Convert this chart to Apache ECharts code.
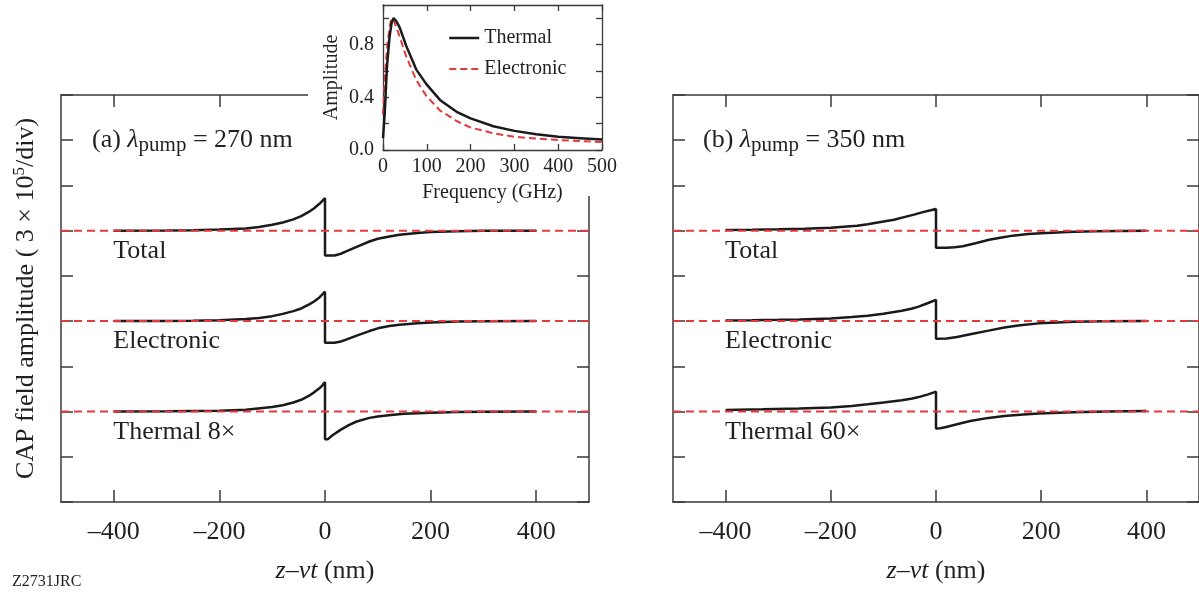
<!DOCTYPE html>
<html><head><meta charset="utf-8">
<script src="https://cdn.jsdelivr.net/npm/echarts@6/dist/echarts.min.js"></script>
<style>html,body{margin:0;padding:0;background:#fff}#c{width:1199px;height:593px}</style>
</head><body><div id="c"></div>
<script>
// ---------- data ----------
const xRange = [-500, 500];
const xTickValues = [-400, -200, 0, 200, 400];
const xTickLabels = ['–400', '–200', '0', '200', '400'];
const yRange = [-1, 8];
const baselineLevels = [5, 3, 1];           // Total, Electronic, Thermal (div)
const labelsA = ['Total', 'Electronic', 'Thermal 8×'];
const labelsB = ['Total', 'Electronic', 'Thermal 60×'];

// panel (a), values in div relative to baseline
const aTotal = [[-400,0],[-300,0.005],[-250,0.01],[-200,0.025],[-150,0.05],[-125,0.08],[-100,0.13],[-80,0.18],[-60,0.25],[-45,0.32],[-30,0.42],[-20,0.5],[-10,0.6],[-5,0.66],[0,0.72],
  [0,-0.55],[18,-0.55],[30,-0.51],[40,-0.46],[60,-0.36],[84,-0.24],[100,-0.18],[122,-0.13],[141,-0.09],[175,-0.05],[200,-0.03],[250,-0.012],[300,-0.004],[400,0]];
const aElectronic = [[-400,0],[-300,0.004],[-250,0.009],[-200,0.02],[-150,0.045],[-125,0.07],[-100,0.11],[-80,0.16],[-60,0.22],[-45,0.28],[-30,0.37],[-20,0.44],[-10,0.53],[-5,0.59],[0,0.65],
  [0,-0.48],[18,-0.48],[30,-0.45],[40,-0.41],[60,-0.32],[84,-0.22],[100,-0.16],[122,-0.11],[141,-0.08],[175,-0.045],[200,-0.028],[250,-0.01],[300,-0.004],[400,0]];
const aThermal = [[-400,0],[-300,0.004],[-200,0.018],[-150,0.04],[-100,0.1],[-80,0.14],[-60,0.2],[-45,0.26],[-30,0.35],[-20,0.43],[-10,0.52],[-5,0.58],[0,0.65],
  [0,-0.61],[5,-0.61],[15,-0.52],[30,-0.4],[45,-0.3],[60,-0.22],[84,-0.14],[100,-0.11],[125,-0.075],[150,-0.05],[200,-0.025],[250,-0.012],[300,-0.005],[400,0]];

// panel (b)
const bTotal = [[-400,0.015],[-350,0.02],[-300,0.03],[-250,0.045],[-200,0.065],[-150,0.11],[-130,0.14],[-108,0.185],[-80,0.24],[-57,0.31],[-40,0.36],[-25,0.41],[-10,0.45],[0,0.48],
  [0,-0.38],[20,-0.38],[35,-0.365],[51,-0.345],[75,-0.28],[101,-0.2],[125,-0.15],[146,-0.11],[175,-0.075],[200,-0.055],[250,-0.03],[300,-0.015],[350,-0.007],[400,-0.003]];
const bElectronic = [[-400,0.015],[-350,0.02],[-300,0.028],[-260,0.037],[-200,0.06],[-160,0.09],[-130,0.12],[-100,0.165],[-65,0.23],[-45,0.28],[-33,0.32],[-15,0.4],[0,0.47],
  [0,-0.39],[20,-0.385],[40,-0.35],[65,-0.29],[100,-0.21],[130,-0.14],[160,-0.09],[195,-0.05],[230,-0.028],[260,-0.015],[320,-0.005],[400,0]];
const bThermal = [[-400,0.037],[-330,0.05],[-260,0.066],[-200,0.09],[-160,0.125],[-130,0.16],[-100,0.2],[-65,0.25],[-45,0.29],[-33,0.32],[-15,0.38],[0,0.44],
  [0,-0.375],[8,-0.37],[19.5,-0.34],[40,-0.28],[65,-0.21],[100,-0.14],[130,-0.1],[160,-0.07],[195,-0.044],[260,-0.015],[326,0],[400,0.015]];

// inset spectra
const insetXTicks = [0, 100, 200, 300, 400, 500];
const insetYTicks = [0, 0.2, 0.4, 0.6, 0.8, 1.0];
const insetYLabels = [0, 0.4, 0.8];
const specThermal = [[0,0.09],[4,0.28],[9,0.63],[15,0.86],[20,0.97],[24,1.0],[30,0.98],[38,0.93],[53,0.79],[76,0.61],[99,0.5],[130,0.38],[168,0.29],[200,0.24],[252,0.18],[300,0.145],[350,0.12],[400,0.1],[450,0.09],[500,0.08]];
const specElectronic = [[0,0.27],[5,0.6],[10,0.8],[15,0.93],[19,1.0],[25,0.98],[38,0.86],[53,0.71],[76,0.53],[99,0.41],[130,0.3],[168,0.22],[200,0.17],[252,0.127],[300,0.1],[350,0.087],[400,0.076],[450,0.068],[500,0.06]];

// ---------- styling ----------
const FF = '"Liberation Serif","DejaVu Serif",serif';
const TXT = '#231f20';
const AX = '#3a3a3a';
const RED = '#e3393f';

const chart = echarts.init(document.getElementById('c'), null, {renderer: 'canvas'});

function mainX(gi, top) {
  return {
    type: 'value', gridIndex: gi, position: top ? 'top' : 'bottom', min: xRange[0], max: xRange[1],
    axisLine: {show: true, onZero: false, lineStyle: {color: AX, width: 1.5}},
    axisTick: {show: true, inside: true, length: 12, customValues: xTickValues, lineStyle: {color: AX, width: 1.5}},
    axisLabel: top ? {show: false} : {show: true, customValues: xTickValues, margin: 17, fontFamily: FF, fontSize: 26, color: TXT,
      formatter: v => xTickLabels[xTickValues.indexOf(v)]},
    splitLine: {show: false},
    name: top ? '' : '{i|z–vt} (nm)', nameLocation: 'middle', nameGap: 54,
    nameTextStyle: {fontFamily: FF, fontSize: 26, color: TXT, lineHeight: 30, rich: {i: {fontFamily: FF, fontSize: 26, fontStyle: 'italic', color: TXT, lineHeight: 30}}}
  };
}
function mainY(gi, right, withName) {
  return {
    type: 'value', gridIndex: gi, position: right ? 'right' : 'left', min: yRange[0], max: yRange[1], interval: 1,
    axisLine: {show: true, onZero: false, lineStyle: {color: AX, width: 1.5}},
    axisTick: {show: true, inside: true, length: 12, lineStyle: {color: AX, width: 1.5}},
    axisLabel: {show: false}, splitLine: {show: false},
    name: withName ? 'CAP field amplitude ( 3 × 10{s|5}/div)' : '', nameLocation: 'middle', nameGap: 20,
    nameTextStyle: {fontFamily: FF, fontSize: 26, color: TXT, lineHeight: 30, rich: {s: {fontFamily: FF, fontSize: 17, color: TXT, verticalAlign: 'top', lineHeight: 17}}}
  };
}

function curve(data, base, gi) {
  return {type: 'line', xAxisIndex: gi * 2, yAxisIndex: gi * 2, data: data.map(p => [p[0], p[1] + base]),
    symbol: 'none', lineStyle: {color: '#1a1a1a', width: 2.5}, z: 3, silent: true, animation: false};
}
function baseLine(base, gi) {
  return {type: 'line', xAxisIndex: gi * 2, yAxisIndex: gi * 2, data: [[xRange[0], base], [xRange[1], base]],
    symbol: 'none', lineStyle: {color: RED, width: 2, type: [8, 5]}, z: 4, silent: true, animation: false};
}
function labelSeries(labels, gi) {
  return {type: 'scatter', xAxisIndex: gi * 2, yAxisIndex: gi * 2, symbolSize: 1, itemStyle: {color: '#ffffff', opacity: 1},
    data: labels.map((t, i) => [xTickValues[0], baselineLevels[i], t]), silent: true, animation: false, z: 2,
    label: {show: true, formatter: p => p.data[2], position: [0, 8], align: 'left', verticalAlign: 'top',
      fontFamily: FF, fontSize: 26, color: TXT, opacity: 1, textBorderWidth: 0}};
}

const series = [];
[aTotal, aElectronic, aThermal].forEach((d, i) => series.push(curve(d, baselineLevels[i], 0)));
[bTotal, bElectronic, bThermal].forEach((d, i) => series.push(curve(d, baselineLevels[i], 1)));
baselineLevels.forEach(b => { series.push(baseLine(b, 0)); series.push(baseLine(b, 1)); });
series.push(labelSeries(labelsA, 0));
series.push(labelSeries(labelsB, 1));
// inset
series.push({name: 'Thermal', type: 'line', xAxisIndex: 4, yAxisIndex: 4, data: specThermal, symbol: 'none',
  itemStyle: {color: '#1a1a1a'}, lineStyle: {color: '#1a1a1a', width: 2.5}, z: 62, animation: false});
series.push({name: 'Electronic', type: 'line', xAxisIndex: 4, yAxisIndex: 4, data: specElectronic, symbol: 'none',
  itemStyle: {color: RED}, lineStyle: {color: RED, width: 2, type: [7, 4]}, z: 61, animation: false});

const insetAxisCommon = {axisLine: {show: true, onZero: false, lineStyle: {color: AX, width: 1.3}}, splitLine: {show: false}, z: 60};

const option = {
  backgroundColor: '#fff',
  animation: false,
  grid: [
    {left: 61, top: 95, width: 528, height: 407},
    {left: 673, top: 95, width: 528, height: 407},
    {left: 383, top: 5, width: 219, height: 145, z: 60}
  ],
  xAxis: [
    mainX(0, false), mainX(0, true), mainX(1, false), mainX(1, true),
    Object.assign({type: 'value', gridIndex: 2, position: 'bottom', min: 0, max: 500, interval: 100,
      axisTick: {show: true, inside: true, length: 6, customValues: insetXTicks, lineStyle: {color: AX, width: 1.3}},
      axisLabel: {show: true, customValues: insetXTicks, margin: 7, fontFamily: FF, fontSize: 20, color: TXT},
      name: 'Frequency (GHz)', nameLocation: 'middle', nameGap: 32,
      nameTextStyle: {fontFamily: FF, fontSize: 20, color: TXT, lineHeight: 22}}, insetAxisCommon),
    Object.assign({type: 'value', gridIndex: 2, position: 'top', min: 0, max: 500, interval: 100,
      axisTick: {show: true, inside: true, length: 6, customValues: insetXTicks, lineStyle: {color: AX, width: 1.3}},
      axisLabel: {show: false}}, insetAxisCommon)
  ],
  yAxis: [
    mainY(0, false, true), mainY(0, true, false), mainY(1, false, false), mainY(1, true, false),
    Object.assign({type: 'value', gridIndex: 2, position: 'left', min: 0, max: 1.1,
      axisTick: {show: true, inside: true, length: 6, customValues: insetYTicks, lineStyle: {color: AX, width: 1.3}},
      axisLabel: {show: true, customValues: insetYLabels, margin: 9, fontFamily: FF, fontSize: 20, color: TXT, formatter: v => v.toFixed(1)},
      name: 'Amplitude', nameLocation: 'middle', nameGap: 40,
      nameTextStyle: {fontFamily: FF, fontSize: 20, color: TXT, lineHeight: 22}}, insetAxisCommon),
    Object.assign({type: 'value', gridIndex: 2, position: 'right', min: 0, max: 1.1,
      axisTick: {show: true, inside: true, length: 6, customValues: insetYTicks, lineStyle: {color: AX, width: 1.3}},
      axisLabel: {show: false}}, insetAxisCommon)
  ],
  legend: {
    data: [
      {name: 'Thermal', lineStyle: {width: 2.5, color: '#1a1a1a'}},
      {name: 'Electronic', lineStyle: {width: 2, color: RED, type: [7, 4]}}
    ],
    orient: 'vertical', left: 448, top: 28, itemWidth: 30, itemHeight: 14, itemGap: 11,
    padding: 0, z: 70, selectedMode: false,
    itemStyle: {opacity: 0, borderWidth: 0},
    textStyle: {fontFamily: FF, fontSize: 20, color: TXT}
  },
  title: [
    {text: '(a) {l|λ}{s|pump} = 270 nm', left: 92, top: 124, padding: 0,
      textStyle: {fontFamily: FF, fontSize: 26, fontWeight: 'normal', color: TXT, lineHeight: 32,
        rich: {l: {fontFamily: FF, fontSize: 26, fontStyle: 'italic', color: TXT, lineHeight: 32},
               s: {fontFamily: FF, fontSize: 21, color: TXT, verticalAlign: 'bottom', lineHeight: 21}}}},
    {text: '(b) {l|λ}{s|pump} = 350 nm', left: 703, top: 124, padding: 0,
      textStyle: {fontFamily: FF, fontSize: 26, fontWeight: 'normal', color: TXT, lineHeight: 32,
        rich: {l: {fontFamily: FF, fontSize: 26, fontStyle: 'italic', color: TXT, lineHeight: 32},
               s: {fontFamily: FF, fontSize: 21, color: TXT, verticalAlign: 'bottom', lineHeight: 21}}}}
  ],
  graphic: [
    {type: 'rect', shape: {x: 308, y: 0, width: 298, height: 196}, style: {fill: '#fff'}, z: 50, silent: true},
    {type: 'text', left: 12, top: 574, z: 50, style: {text: 'Z2731JRC', fontFamily: FF, fontSize: 16, fill: TXT}}
  ],
  series: series
};
chart.setOption(option);
</script></body></html>
